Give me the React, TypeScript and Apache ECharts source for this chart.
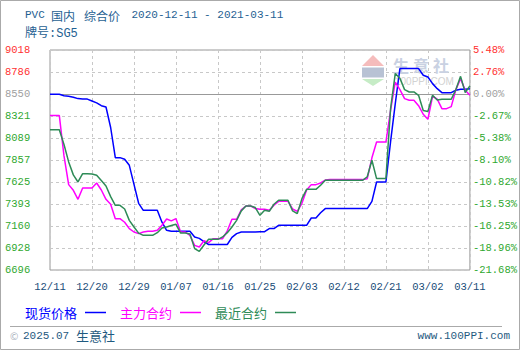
import React, { useEffect, useRef } from "react";
import * as echarts from "echarts";

// ---- data ----
const startDateUTC = Date.UTC(2020, 11, 11); // 2020-12-11, one point per calendar day
const seriesNames = ["现货价格", "主力合约", "最近合约"];
const seriesColors = ["#0000ff", "#ff00ff", "#2e8b57"];

const spotPrice = [
  8550, 8550, 8550, 8535, 8530, 8520, 8505, 8500, 8500, 8480,
  8460, 8430, 8416, 8200, 7882, 7882, 7865, 7801, 7600, 7400,
  7326, 7326, 7326, 7326, 7200, 7115, 7105, 7105, 7105, 7105,
  7105, 7045, 7030, 6995, 6965, 6965, 6965, 6965, 6965, 7040,
  7080, 7097, 7097, 7097, 7097, 7100, 7100, 7133, 7133, 7168,
  7168, 7168, 7168, 7168, 7168, 7168, 7245, 7245, 7300, 7344,
  7344, 7344, 7344, 7344, 7344, 7344, 7344, 7344, 7344, 7420,
  7625, 7625, 7625, 8050, 8450, 8822, 8822, 8822, 8822, 8822,
  8751, 8733, 8663, 8610, 8568, 8568, 8568, 8593, 8603, 8603, 8610,
];

const mainContract = [
  8326, 8326, 8326, 7900, 7597, 7537, 7442, 7562, 7562, 7562,
  7614, 7540, 7442, 7390, 7238, 7238, 7200, 7133, 7097, 7080,
  7097, 7104, 7104, 7115, 7168, 7235, 7215, 7238, 7097, 7097,
  7060, 6956, 6939, 7005, 6985, 7027, 7027, 7027, 7110, 7231,
  7231, 7330, 7372, 7372, 7345, 7337, 7337, 7326, 7380, 7421,
  7421, 7421, 7340, 7315, 7400, 7540, 7597, 7597, 7615, 7645,
  7650, 7650, 7650, 7650, 7650, 7650, 7650, 7650, 7660, 7880,
  8047, 8047, 8047, 8380, 8680, 8600, 8505, 8487, 8487, 8430,
  8340, 8287, 8530, 8500, 8399, 8399, 8420, 8600, 8716, 8593, 8540,
];

const nearestContract = [
  8177, 8177, 8177, 8020, 7837, 7700, 7625, 7713, 7713, 7710,
  7696, 7640, 7583, 7470, 7379, 7379, 7340, 7220, 7150, 7085,
  7062, 7062, 7062, 7090, 7139, 7150, 7165, 7178, 7086, 7086,
  7075, 6922, 6893, 6960, 7020, 7020, 7020, 7045, 7090, 7150,
  7220, 7320, 7372, 7372, 7355, 7273, 7326, 7315, 7390, 7432,
  7432, 7432, 7320, 7291, 7449, 7547, 7547, 7547, 7590, 7643,
  7643, 7643, 7643, 7643, 7643, 7643, 7643, 7643, 7680, 7854,
  7661, 7661, 7661, 8400, 8769, 8720, 8600, 8575, 8575, 8540,
  8380, 8370, 8540, 8490, 8498, 8498, 8498, 8600, 8740, 8570, 8640,
];

const leftTickLabels = ["6696", "6928", "7160", "7393", "7625", "7857", "8089", "8321", "8550", "8786", "9018"];
const rightTickLabels = ["-21.68%", "-18.96%", "-16.25%", "-13.53%", "-10.82%", "-8.10%", "-5.38%", "-2.67%", "0.00%", "2.76%", "5.48%"];
const baseIndex = 8;
const baseValue = 8550;
const yMin = 6696;
const yMax = 9018;
const xLabelEvery = 9;

const categories = spotPrice.map((_, i) => {
  const d = new Date(startDateUTC + i * 86400000);
  return String(d.getUTCMonth() + 1).padStart(2, "0") + "/" + String(d.getUTCDate()).padStart(2, "0");
});

const MONO = "'Liberation Mono', 'DejaVu Sans Mono', monospace";
const CJK = "'Noto Sans CJK SC', 'Noto Sans', sans-serif";
const MONO_CJK = "'Liberation Mono', 'Noto Sans CJK SC', monospace";

const tickColor = (i: number) => (i > baseIndex ? "#ff3030" : i === baseIndex ? "#a0a0a0" : "#2fa82f");

export default function App() {
  const ref = useRef<HTMLDivElement>(null);

  useEffect(() => {
    if (!ref.current) return;
    const chart = echarts.init(ref.current, undefined, { renderer: "svg" });
    const titleColor = "#1f6192";
    const footColor = "#1f5a80";

    const legendItems = seriesNames.map((name, i) => {
      const tx = [25, 120, 215][i];
      return [
        { type: "text", x: tx, y: 312, style: { text: name, fill: seriesColors[i], font: "13px " + CJK, verticalAlign: "middle" } },
        { type: "line", shape: { x1: tx + 60, y1: 312.5, x2: tx + 81, y2: 312.5 }, style: { stroke: seriesColors[i], lineWidth: 1.5 } },
      ];
    }).flat();

    const option: any = {
      animation: false,
      grid: { left: 50, right: 49, top: 50, bottom: 80, show: true, borderColor: "#999", borderWidth: 1, backgroundColor: "transparent" },
      xAxis: {
        type: "category",
        data: categories,
        boundaryGap: false,
        axisLine: { show: false },
        axisTick: { show: false },
        axisLabel: { interval: xLabelEvery - 1, color: "#184c78", fontFamily: MONO, fontSize: 10.5, margin: 11 },
        splitLine: { show: true, interval: xLabelEvery - 1, lineStyle: { color: "#c8c8c8", type: [3, 3], width: 1 } },
      },
      yAxis: [
        {
          type: "value", position: "left", min: 0, max: 10, interval: 1,
          axisLine: { show: false }, axisTick: { show: false },
          axisLabel: {
            formatter: (v: number) => leftTickLabels[Math.round(v)] ?? "",
            color: (v: any) => tickColor(Math.round(Number(v))),
            align: "left", margin: 45, fontFamily: MONO, fontSize: 10.5,
          },
          splitLine: { show: true, lineStyle: { color: "#c8c8c8", type: [3, 3], width: 1 } },
        },
        {
          type: "value", position: "right", min: 0, max: 10, interval: 1,
          axisLine: { show: false }, axisTick: { show: false },
          axisLabel: {
            formatter: (v: number) => rightTickLabels[Math.round(v)] ?? "",
            color: (v: any) => tickColor(Math.round(Number(v))),
            align: "left", margin: 3, fontFamily: MONO, fontSize: 10.5,
          },
          splitLine: { show: false },
        },
        { type: "value", min: yMin, max: yMax, show: false },
      ],
      series: [spotPrice, mainContract, nearestContract].map((data, i) => ({
        name: seriesNames[i],
        type: "line",
        yAxisIndex: 2,
        data,
        symbol: "none",
        showSymbol: false,
        lineStyle: { color: seriesColors[i], width: 1.5 },
        itemStyle: { color: seriesColors[i] },
        z: 3 + i,
        ...(i === 0
          ? {
              markLine: {
                silent: true,
                symbol: ["none", "none"],
                label: { show: false },
                lineStyle: { color: "#999", type: "solid", width: 1 },
                data: [{ yAxis: baseValue }],
                z: 2,
              },
            }
          : {}),
      })),
      graphic: [
        // outer frame
        { type: "rect", z: 0, shape: { x: 0.5, y: 0.5, width: 519, height: 349 }, style: { fill: "transparent", stroke: "#aaa", lineWidth: 1 } },
        // watermark
        { type: "polygon", z: 1, shape: { points: [[373, 55], [362, 66], [384, 66]] }, style: { fill: "#f5bcbc" } },
        { type: "rect", z: 1, shape: { x: 362, y: 67.5, width: 22, height: 10 }, style: { fill: "#b8c2d4" } },
        { type: "polygon", z: 1, shape: { points: [[362, 79], [384, 79], [373, 86]] }, style: { fill: "#c6ecc6" } },
        { type: "text", z: 1, x: 393, y: 65, style: { text: "生", fill: "#c9d1e2", font: "bold 16px " + CJK, verticalAlign: "middle" } },
        { type: "text", z: 1, x: 413, y: 65, style: { text: "意", fill: "#c9d1e2", font: "bold 16px " + CJK, verticalAlign: "middle" } },
        { type: "text", z: 1, x: 433, y: 65, style: { text: "社", fill: "#c9d1e2", font: "bold 16px " + CJK, verticalAlign: "middle" } },
        { type: "text", z: 1, x: 395, y: 81, style: { text: "100PPI.COM", fill: "#d2d2d2", font: "10px " + "'Liberation Sans', sans-serif", verticalAlign: "middle" } },
        // title
        { type: "text", x: 25, y: 15, style: { text: "PVC", fill: titleColor, font: "11px " + MONO, verticalAlign: "middle" } },
        { type: "text", x: 51, y: 15, style: { text: "国内", fill: titleColor, font: "12px " + CJK, verticalAlign: "middle" } },
        { type: "text", x: 84, y: 15, style: { text: "综合价", fill: titleColor, font: "12px " + CJK, verticalAlign: "middle" } },
        { type: "text", x: 131.5, y: 15, style: { text: "2020-12-11 - 2021-03-11", fill: titleColor, font: "11px " + MONO, verticalAlign: "middle" } },
        { type: "text", x: 25, y: 33.5, style: { text: "牌号:SG5", fill: titleColor, font: "12px " + MONO_CJK, verticalAlign: "middle" } },
        // legend
        ...legendItems,
        // footer
        { type: "line", shape: { x1: 10, y1: 326.5, x2: 502, y2: 326.5 }, style: { stroke: "#aaa", lineWidth: 1 } },
        { type: "text", x: 10, y: 335, style: { text: "©", fill: "#a8b0bc", font: "10px " + CJK, verticalAlign: "middle" } },
        { type: "text", x: 23, y: 335.5, style: { text: "2025.07", fill: footColor, font: "11px " + MONO, verticalAlign: "middle" } },
        { type: "text", x: 76, y: 335, style: { text: "生意社", fill: footColor, font: "13px " + CJK, verticalAlign: "middle" } },
        { type: "text", x: 510, y: 335.5, style: { text: "www.100PPI.com", fill: footColor, font: "11px " + MONO, align: "right", verticalAlign: "middle" } },
      ],
    };
    chart.setOption(option);
    return () => chart.dispose();
  }, []);

  return <div ref={ref} style={{ position: "fixed", left: 0, top: 0, width: 520, height: 350, background: "#fff" }} />;
}
